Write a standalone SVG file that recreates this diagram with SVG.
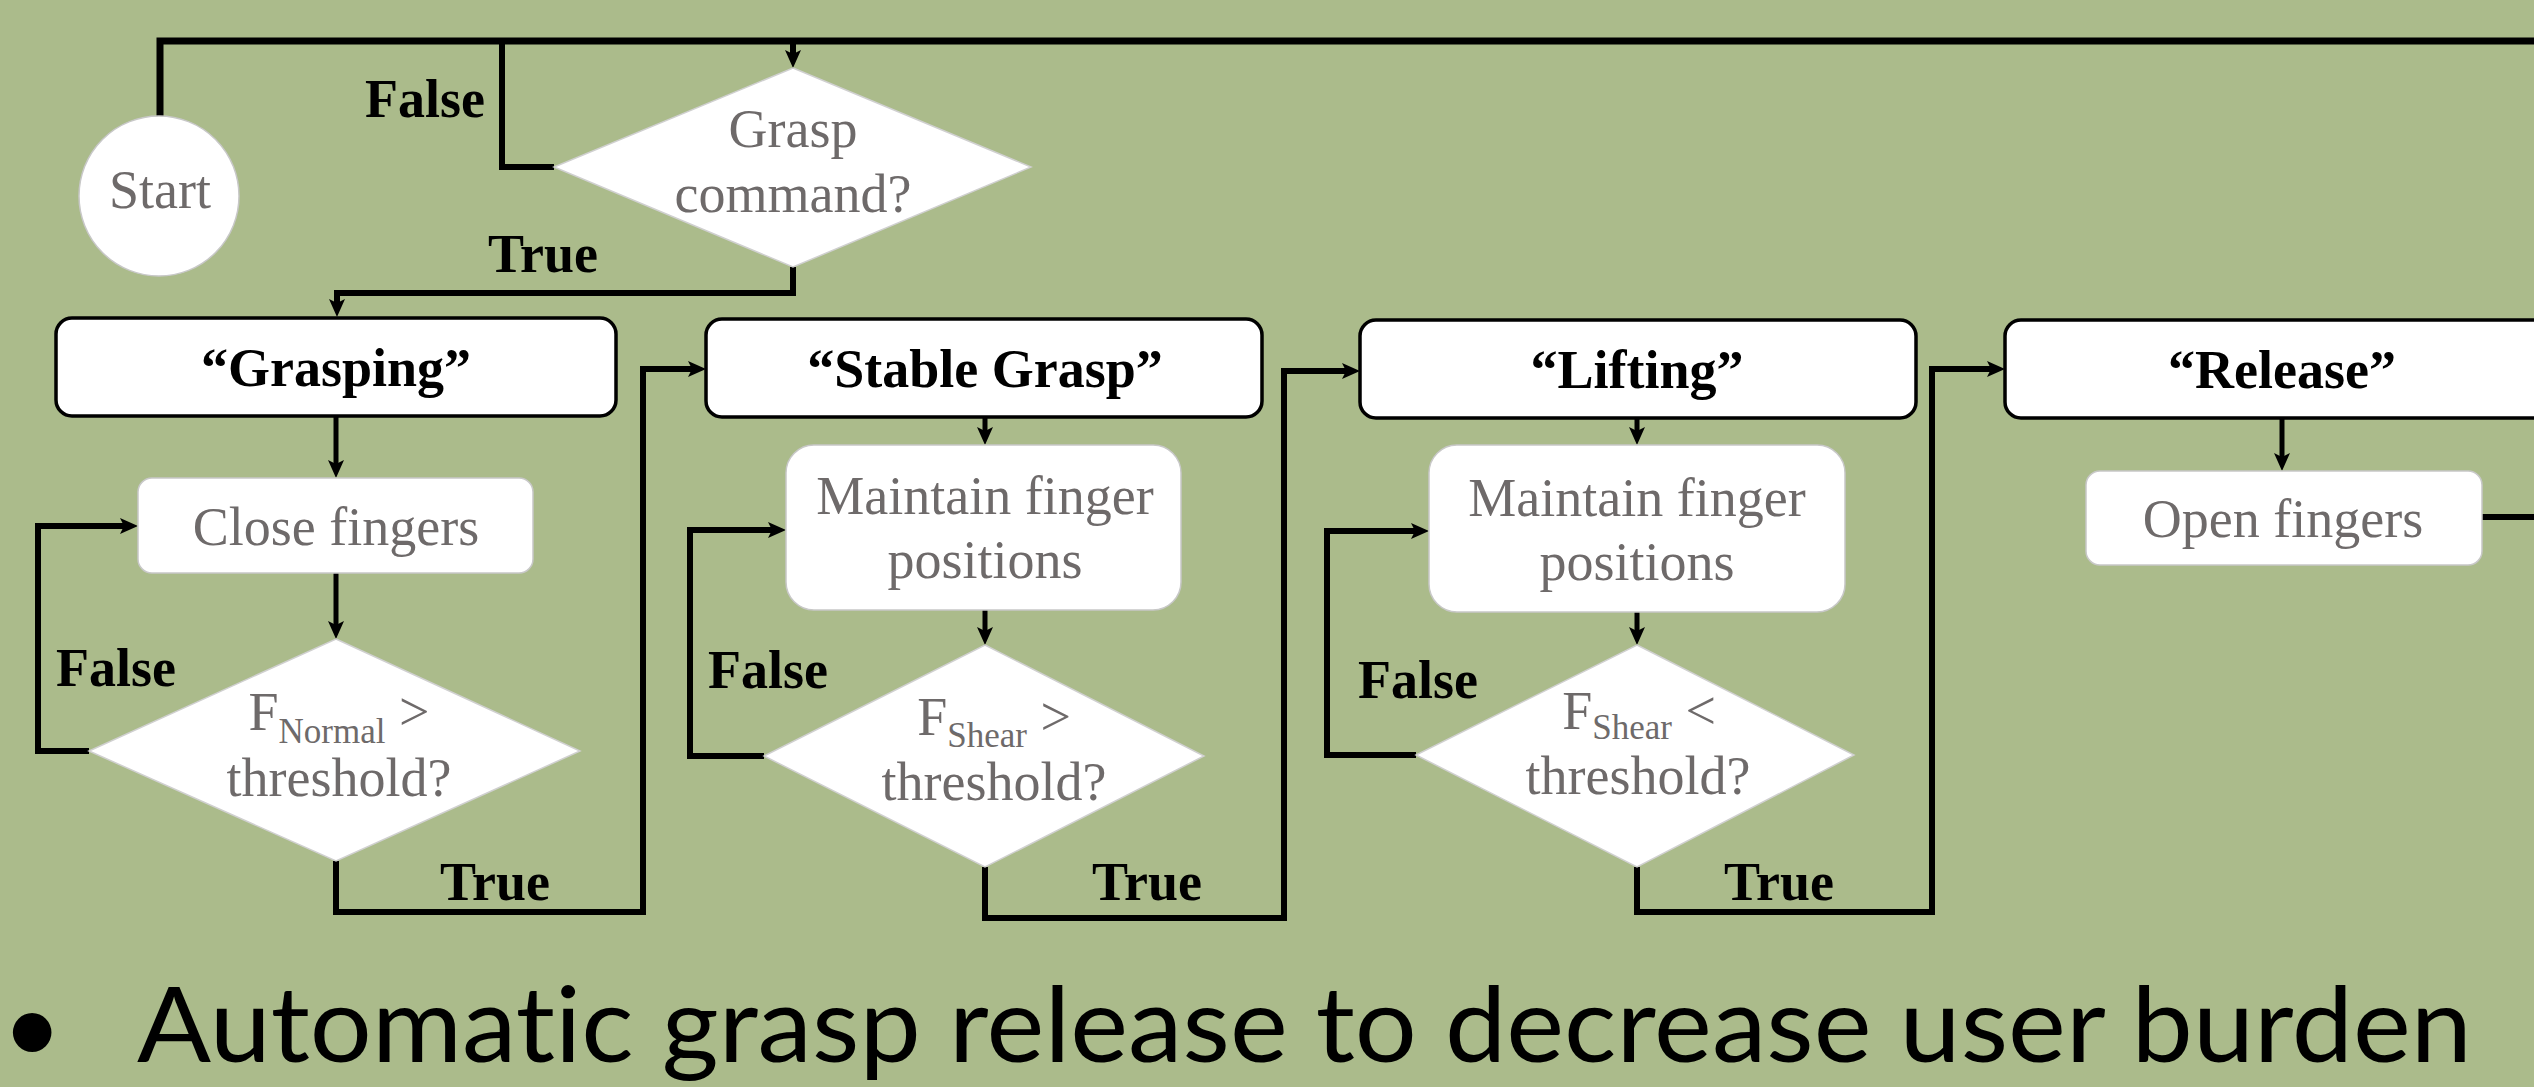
<svg xmlns="http://www.w3.org/2000/svg" width="2534" height="1087" viewBox="0 0 2534 1087">
  <style>
    .bg { fill: #abbb8b; }
    .state { fill: #ffffff; stroke: #000000; stroke-width: 3.5; }
    .proc { fill: #ffffff; stroke: #c8c8c8; stroke-width: 1.5; }
    .dec { fill: #ffffff; stroke: #d0d0d0; stroke-width: 1.5; }
    .wire { fill: none; stroke: #000000; stroke-width: 6; stroke-linejoin: miter; }
    .wire.thin { stroke-width: 5; }
    .wire.top { stroke-width: 7; }
    .lbl { font-family: "Liberation Serif", "Times New Roman", serif; font-size: 54px; fill: #6e6a6a; text-anchor: middle; }
    .sub { font-size: 35px; }
    .head { font-family: "Liberation Serif", "Times New Roman", serif; font-size: 54px; font-weight: bold; fill: #000000; text-anchor: middle; }
    .cond { font-family: "Liberation Serif", "Times New Roman", serif; font-size: 54px; font-weight: bold; fill: #000000; }
    .bullet { font-family: Lato, "Open Sans", sans-serif; font-size: 104px; fill: #000000; font-variant-ligatures: none; }
  </style>
  <defs>
    <marker id="arrow" markerUnits="userSpaceOnUse" markerWidth="20" markerHeight="18" refX="6" refY="8" orient="auto">
      <path d="M0,0 L18,8 L0,16 L4,8 z" fill="#000000"/>
    </marker>
  </defs>

  <rect class="bg" x="0" y="0" width="2534" height="1087"/>

  <!-- connectors -->
  <g id="connectors">
    <path class="wire top" d="M160,117 V41 H2550"/>
    <path class="wire" d="M793,41 V56" marker-end="url(#arrow)"/>
    <path class="wire" d="M554,167 H502 V41"/>
    <path class="wire" d="M793,267 V293 H337 V305" marker-end="url(#arrow)"/>
    <path class="wire thin" d="M336,416 V466" marker-end="url(#arrow)"/>
    <path class="wire thin" d="M336,573 V627" marker-end="url(#arrow)"/>
    <path class="wire" d="M89,751 H38 V526 H126" marker-end="url(#arrow)"/>
    <path class="wire" d="M336,861 V912 H643 V369 H694" marker-end="url(#arrow)"/>
    <path class="wire thin" d="M985,418 V433" marker-end="url(#arrow)"/>
    <path class="wire thin" d="M985,610 V633" marker-end="url(#arrow)"/>
    <path class="wire" d="M764,756 H690 V530 H774" marker-end="url(#arrow)"/>
    <path class="wire" d="M985,867 V918 H1284 V371 H1348" marker-end="url(#arrow)"/>
    <path class="wire thin" d="M1637,418 V433" marker-end="url(#arrow)"/>
    <path class="wire thin" d="M1637,612 V633" marker-end="url(#arrow)"/>
    <path class="wire" d="M1416,755 H1327 V531 H1417" marker-end="url(#arrow)"/>
    <path class="wire" d="M1637,867 V912 H1932 V369 H1993" marker-end="url(#arrow)"/>
    <path class="wire thin" d="M2282,418 V459" marker-end="url(#arrow)"/>
    <path class="wire" d="M2482,517 H2550"/>
  </g>

  <!-- start terminal -->
  <g id="start">
    <circle class="proc" cx="159" cy="196" r="80"/>
    <text class="lbl" x="160" y="208">Start</text>
  </g>

  <!-- initial decision -->
  <g id="grasp-command">
    <polygon class="dec" points="793,68 1031,167 793,267 554,167"/>
    <text class="lbl" x="793" y="147">Grasp</text>
    <text class="lbl" x="793" y="212">command?</text>
  </g>

  <!-- state headers -->
  <g id="state-grasping">
    <rect class="state" x="56" y="318" width="560" height="98" rx="16"/>
    <text class="head" x="336" y="386">“Grasping”</text>
  </g>
  <g id="state-stable">
    <rect class="state" x="706" y="319" width="556" height="98" rx="16"/>
    <text class="head" x="985" y="387">“Stable Grasp”</text>
  </g>
  <g id="state-lifting">
    <rect class="state" x="1360" y="320" width="556" height="98" rx="16"/>
    <text class="head" x="1637" y="388">“Lifting”</text>
  </g>
  <g id="state-release">
    <rect class="state" x="2005" y="320" width="580" height="98" rx="16"/>
    <text class="head" x="2282" y="388">“Release”</text>
  </g>

  <!-- actions -->
  <g id="close-fingers">
    <rect class="proc" x="138" y="478" width="395" height="95" rx="14"/>
    <text class="lbl" x="336" y="545">Close fingers</text>
  </g>
  <g id="maintain-stable">
    <rect class="proc" x="786" y="445" width="395" height="165" rx="28"/>
    <text class="lbl" x="985" y="514">Maintain finger</text>
    <text class="lbl" x="985" y="578">positions</text>
  </g>
  <g id="maintain-lifting">
    <rect class="proc" x="1429" y="445" width="416" height="167" rx="28"/>
    <text class="lbl" x="1637" y="516">Maintain finger</text>
    <text class="lbl" x="1637" y="580">positions</text>
  </g>
  <g id="open-fingers">
    <rect class="proc" x="2086" y="471" width="396" height="94" rx="14"/>
    <text class="lbl" x="2283" y="537">Open fingers</text>
  </g>

  <!-- threshold checks -->
  <g id="check-normal">
    <polygon class="dec" points="336,639 580,751 336,861 89,751"/>
    <text class="lbl" x="339" y="730">F<tspan class="sub" dy="13">Normal</tspan><tspan dy="-13"> &gt;</tspan></text>
    <text class="lbl" x="339" y="796">threshold?</text>
  </g>
  <g id="check-shear-high">
    <polygon class="dec" points="985,645 1204,756 985,867 764,756"/>
    <text class="lbl" x="994" y="735">F<tspan class="sub" dy="12">Shear</tspan><tspan dy="-12"> &gt;</tspan></text>
    <text class="lbl" x="994" y="800">threshold?</text>
  </g>
  <g id="check-shear-low">
    <polygon class="dec" points="1637,645 1854,755 1637,867 1416,755"/>
    <text class="lbl" x="1639" y="729">F<tspan class="sub" dy="10">Shear</tspan><tspan dy="-10"> &lt;</tspan></text>
    <text class="lbl" x="1638" y="794">threshold?</text>
  </g>

  <!-- branch labels -->
  <g id="branch-labels">
    <text class="cond" x="365" y="117">False</text>
    <text class="cond" x="488" y="272">True</text>
    <text class="cond" x="56" y="686">False</text>
    <text class="cond" x="440" y="900">True</text>
    <text class="cond" x="708" y="688">False</text>
    <text class="cond" x="1092" y="900">True</text>
    <text class="cond" x="1358" y="698">False</text>
    <text class="cond" x="1724" y="900">True</text>
  </g>

  <!-- caption -->
  <g id="caption">
    <text class="bullet" x="2" y="1064">•</text>
    <text class="bullet" x="137" y="1062" textLength="2335" lengthAdjust="spacingAndGlyphs">Automatic grasp release to decrease user burden</text>
  </g>
</svg>
